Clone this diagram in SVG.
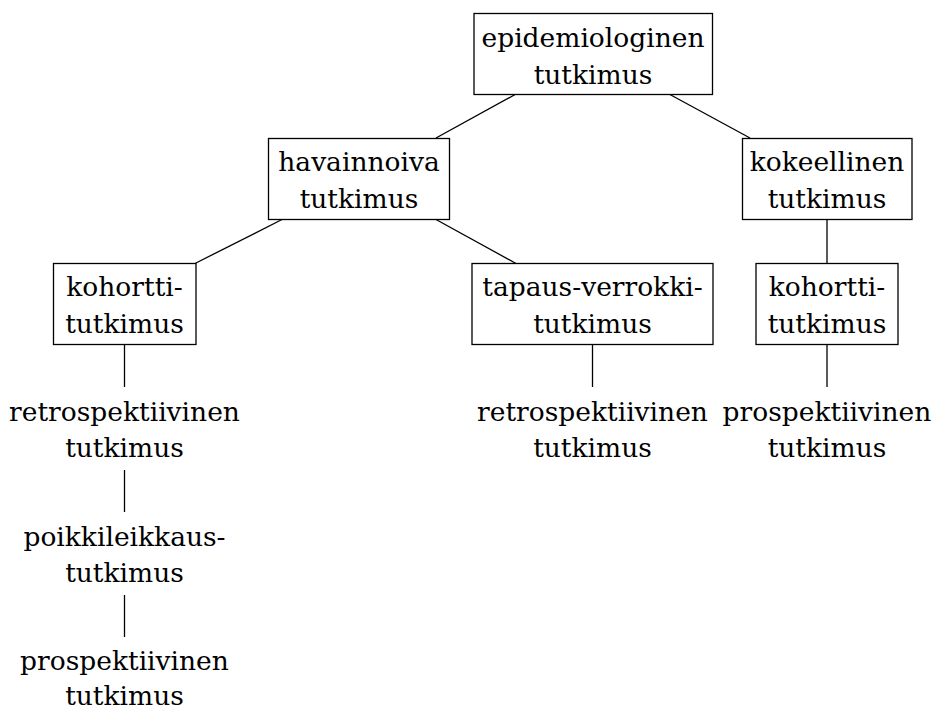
<svg xmlns="http://www.w3.org/2000/svg" width="933" height="711" viewBox="0 0 933 711">
<style>
.box{fill:#fff;stroke:#000;stroke-width:1.3}
.edge{stroke:#000;stroke-width:1.3;fill:none}
.t{font-family:'DejaVu Serif','Liberation Serif',serif;font-size:26.5px;fill:#000;text-anchor:middle}
</style>
<rect width="933" height="711" fill="#fff"/>
<g id="connectors">
<line class="edge" x1="516" y1="94" x2="436" y2="138"/>
<line class="edge" x1="669" y1="94" x2="750" y2="138"/>
<line class="edge" x1="282" y1="219.5" x2="195" y2="263.5"/>
<line class="edge" x1="436" y1="219.5" x2="516" y2="263.5"/>
<line class="edge" x1="827" y1="219.5" x2="827" y2="263.5"/>
<line class="edge" x1="124.5" y1="344.5" x2="124.5" y2="387"/>
<line class="edge" x1="592.5" y1="344.5" x2="592.5" y2="387"/>
<line class="edge" x1="827" y1="344.5" x2="827" y2="387"/>
<line class="edge" x1="124.5" y1="470" x2="124.5" y2="512"/>
<line class="edge" x1="124.5" y1="595" x2="124.5" y2="637"/>
</g>
<g class="t">
<g id="root">
<rect class="box" x="474" y="13.5" width="238.5" height="81"/>
<text x="593" y="47">epidemiologinen</text>
<text x="593" y="84">tutkimus</text>
</g>
<g id="havainnoiva">
<rect class="box" x="268.5" y="138.5" width="181" height="81"/>
<text x="359" y="171">havainnoiva</text>
<text x="359" y="208">tutkimus</text>
</g>
<g id="kokeellinen">
<rect class="box" x="742.5" y="138.5" width="169.5" height="81"/>
<text x="827" y="171">kokeellinen</text>
<text x="827" y="208">tutkimus</text>
</g>
<g id="kohortti1">
<rect class="box" x="53.5" y="263.5" width="142.5" height="81"/>
<text x="124.5" y="296">kohortti-</text>
<text x="124.5" y="333">tutkimus</text>
</g>
<g id="tapaus">
<rect class="box" x="472" y="263.5" width="241" height="81"/>
<text x="592.5" y="296">tapaus-verrokki-</text>
<text x="592.5" y="333">tutkimus</text>
</g>
<g id="kohortti2">
<rect class="box" x="756" y="263.5" width="142" height="81"/>
<text x="827" y="296">kohortti-</text>
<text x="827" y="333">tutkimus</text>
</g>
<g id="retro1">
<text x="124.5" y="421">retrospektiivinen</text>
<text x="124.5" y="457">tutkimus</text>
</g>
<g id="poikki">
<text x="124.5" y="546">poikkileikkaus-</text>
<text x="124.5" y="582">tutkimus</text>
</g>
<g id="prosp1">
<text x="124.5" y="670">prospektiivinen</text>
<text x="124.5" y="705">tutkimus</text>
</g>
<g id="retro2">
<text x="592.5" y="421">retrospektiivinen</text>
<text x="592.5" y="457">tutkimus</text>
</g>
<g id="prosp2">
<text x="827" y="421">prospektiivinen</text>
<text x="827" y="457">tutkimus</text>
</g>
</g>
</svg>
